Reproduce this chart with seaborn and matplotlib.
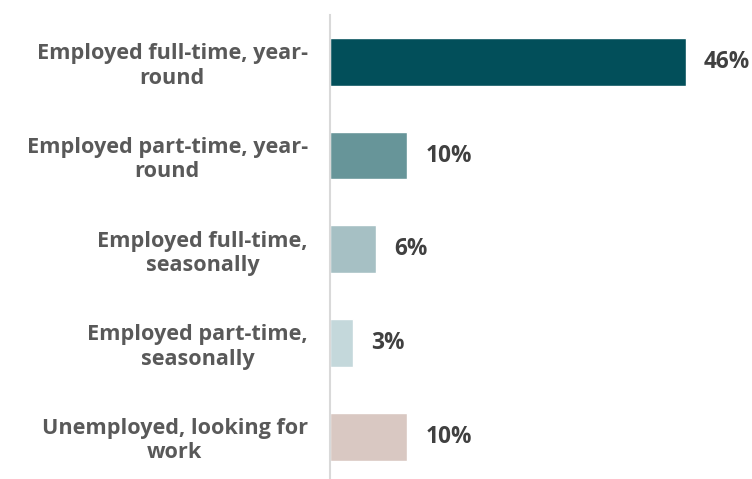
import matplotlib
matplotlib.use("Agg")
import matplotlib.pyplot as plt
import seaborn as sns
import pandas as pd

categories = [
    "Employed full-time, year-\nround",
    "Employed part-time, year-\nround",
    "Employed full-time,\nseasonally",
    "Employed part-time,\nseasonally",
    "Unemployed, looking for\nwork",
]
values = [46, 10, 6, 3, 10]
value_labels = ["46%", "10%", "6%", "3%", "10%"]
colors = ["#024F5A", "#679599", "#A6C0C4", "#C4D8DB", "#D9C8C2"]

sns.set_theme(style="white")
plt.rcParams["font.family"] = ["Open Sans", "DejaVu Sans"]

df = pd.DataFrame({"category": categories, "value": values})

fig = plt.figure(figsize=(7.52, 4.79), dpi=100)
ax = fig.add_axes([330 / 752, 1 - 483.5 / 479, 1 - 330 / 752, (483.5 - 15) / 479])

sns.barplot(data=df, y="category", x="value", hue="category", palette=colors,
            legend=False, orient="h", width=0.51, ax=ax, saturation=1)

ax.set_xlim(0, (752 - 331) / 7.72)
ax.set_ylim(4.5, -0.5)

for i, (v, lab) in enumerate(zip(values, value_labels)):
    ax.annotate(lab, xy=(v, i), xytext=(18, 0), textcoords="offset pixels",
                va="center", ha="left", fontsize=16.3, fontweight="bold", color="#404040")

ax.set_xlabel("")
ax.set_ylabel("")
ax.set_xticks([])
for s in ["top", "right", "bottom"]:
    ax.spines[s].set_visible(False)
ax.spines["left"].set_color("#D9D9D9")
ax.spines["left"].set_linewidth(1.5)

ax.tick_params(axis="y", which="major", length=0, pad=16)
ax.set_yticks([-0.5, 0.5, 1.5, 2.5, 3.5, 4.5], minor=True)
ax.tick_params(axis="y", which="minor", length=6, color="#D9D9D9", width=1.5)
for t in ax.get_yticklabels():
    t.set_fontsize(15.6)
    t.set_fontweight("bold")
    t.set_color("#595959")
    t.set_multialignment("center")
    t.set_linespacing(1.2)

fig.savefig("out.png", dpi=100)
